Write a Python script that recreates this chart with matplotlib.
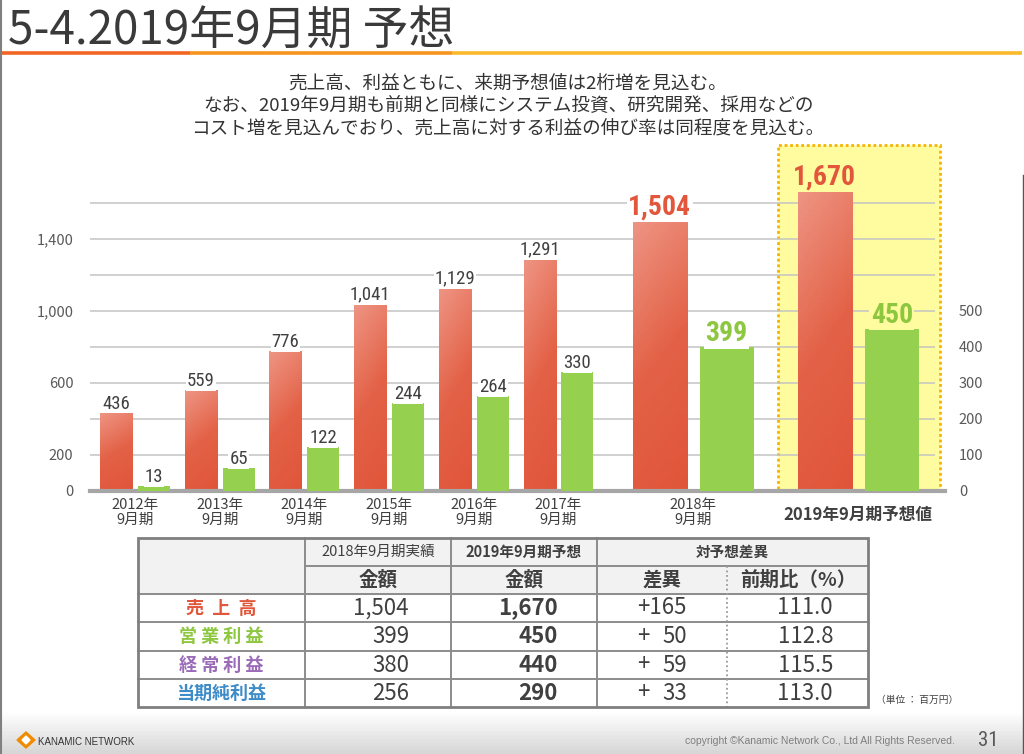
import numpy as np
import matplotlib
matplotlib.use("Agg")
import matplotlib.pyplot as plt
from matplotlib import font_manager
from matplotlib.colors import LinearSegmentedColormap
from matplotlib.patches import Rectangle, Polygon

plt.rcParams['font.family'] = ['Noto Sans CJK JP', 'DejaVu Sans']


def pick_narrow():
    fonts = font_manager.fontManager.ttflist
    names = {f.name for f in fonts}
    for n in ['Roboto Condensed', 'Liberation Sans Narrow', 'Open Sans Condensed',
              'Noto Sans Condensed', 'DejaVu Sans Condensed']:
        if n in names:
            return dict(family=n)
    for fam in ['Roboto', 'Noto Sans', 'Open Sans', 'DejaVu Sans', 'Inter', 'Lato']:
        for f in fonts:
            if f.name == fam and f.stretch in ('condensed', 'semi-condensed'):
                return dict(family=fam, stretch=f.stretch)
    for f in fonts:
        n = f.name.lower()
        if ('narrow' in n or 'condensed' in n) and 'mono' not in n and 'serif' not in n:
            return dict(family=f.name)
    return dict(family='Liberation Sans')


NARROW = pick_narrow()

# ---- data ----
periods = ['2012年\n9月期', '2013年\n9月期', '2014年\n9月期', '2015年\n9月期',
           '2016年\n9月期', '2017年\n9月期', '2018年\n9月期', '2019年9月期予想値']
sales = [436, 559, 776, 1041, 1129, 1291, 1504, 1670]
op_income = [13, 65, 122, 244, 264, 330, 399, 450]

left_ticks = [0, 200, 600, 1000, 1400]
right_ticks = [0, 100, 200, 300, 400, 500]

table_items = ['売  上  高', '営 業 利 益', '経 常 利 益', '当期純利益']
item_colors = ['#E2573B', '#8DC63F', '#9B6BB8', '#3D8CC8']
actual_2018 = [1504, 399, 380, 256]
forecast_2019 = [1670, 450, 440, 290]
diff_vs = [165, 50, 59, 33]
yoy_pct = [111.0, 112.8, 115.5, 113.0]

RED = '#E2573B'
GREEN = '#8DC63F'
TXT = '#404040'

W, H = 1024, 754
fig = plt.figure(figsize=(W / 100, H / 100), dpi=100)


def box(x0, y0, x1, y1):
    return [x0 / W, 1 - y1 / H, (x1 - x0) / W, (y1 - y0) / H]


# ---- slide decoration layer (pixel coordinates) ----
deco = fig.add_axes([0, 0, 1, 1])
deco.set_zorder(0)
deco.axis('off')
deco.set_xlim(0, W)
deco.set_ylim(H, 0)

deco.text(8, 31, '5-4.2019年9月期 予想', fontsize=33, color='#3A3A3A', va='center', ha='left')
deco.plot([0, 190], [53, 53], color='#F26522', lw=2.6, solid_capstyle='butt')
deco.plot([190, 452], [53, 53], color='#F7941D', lw=2.6, solid_capstyle='butt')
deco.plot([452, 1022], [53, 53], color='#FBBA2B', lw=2.6, solid_capstyle='butt')

subtitle = ['売上高、利益ともに、来期予想値は2桁増を見込む。',
            'なお、2019年9月期も前期と同様にシステム投資、研究開発、採用などの',
            'コスト増を見込んでおり、売上高に対する利益の伸び率は同程度を見込む。']
for i, line in enumerate(subtitle):
    deco.text(508, 84 + i * 22, line, fontsize=13.4, color='#333333', ha='center', va='center')

# legend
deco.add_patch(Rectangle((95, 182), 9, 9, color=RED))
deco.text(116, 187, '売上高', fontsize=13, fontweight='bold', color=RED, va='center')
deco.add_patch(Rectangle((196, 182), 9, 9, color=GREEN))
deco.text(215, 187, '営業利益', fontsize=13, fontweight='bold', color=GREEN, va='center')

# footer
foot = LinearSegmentedColormap.from_list('foot', ['#FFFFFF', '#D6D6D6'])
deco.imshow(np.linspace(0, 1, 50).reshape(-1, 1), cmap=foot, aspect='auto',
            extent=[0, W, 754, 712], origin='upper', zorder=0)
deco.add_patch(Polygon([(17, 740), (26, 732), (35, 740), (26, 748)], color='#F08A00', zorder=2))
deco.add_patch(Polygon([(22, 740), (26, 736), (30, 740), (26, 744)], color='white', zorder=3))
deco.text(38, 742, 'KANAMIC NETWORK', fontsize=7, family='Liberation Sans', color='#333333', va='center')
deco.text(955, 741, 'copyright ©Kanamic Network Co., Ltd All Rights Reserved.', fontsize=7.5,
          family='Liberation Sans', color='#7F7F7F', ha='right', va='center')
deco.text(988, 740, '31', fontsize=15, color='#595959', ha='center', va='center', **NARROW)
deco.plot([1, 1], [0, 754], color='#808080', lw=1.5)
deco.plot([1022.5, 1022.5], [175, 754], color='#555555', lw=1)

# ---- table ----
col_edges = [138, 305, 451, 597, 727, 868]
row_edges = [538, 566, 594, 622, 651, 679, 707]
deco.add_patch(Rectangle((138, 538), 868 - 138, 594 - 538, color='#F2F2F2', zorder=1))
line_kw = dict(color='#8C8C8C', lw=1.4, zorder=3)
deco.plot([305, 868], [566, 566], **line_kw)
for y in row_edges[2:-1]:
    deco.plot([138, 868], [y, y], **line_kw)
for x in col_edges[1:4]:
    deco.plot([x, x], [538, 707], **line_kw)
deco.plot([727, 727], [566, 707], color='#9A9A9A', lw=1.3, ls=(0, (1, 1.5)), zorder=3)
deco.add_patch(Rectangle((138, 538), 868 - 138, 707 - 538, fill=False, ec='#7F7F7F', lw=2, zorder=4))

deco.text(378, 552, '2018年9月期実績', fontsize=10.5, color=TXT, ha='center', va='center')
deco.text(524, 552, '2019年9月期予想', fontsize=10.5, fontweight='bold', color=TXT, ha='center', va='center')
deco.text(732, 552, '対予想差異', fontsize=10.5, fontweight='bold', color=TXT, ha='center', va='center')
for x, s in zip([378, 524, 662, 798], ['金額', '金額', '差異', '前期比（%）']):
    deco.text(x, 580, s, fontsize=14, fontweight='bold', color=TXT, ha='center', va='center')

diff_texts = []
for i in range(len(table_items)):
    yc = (row_edges[i + 2] + row_edges[i + 3]) / 2
    deco.text(221, yc, table_items[i], fontsize=13, fontweight='bold', color=item_colors[i],
              ha='center', va='center')
    deco.text(409, yc, f'{actual_2018[i]:,}', fontsize=16, color=TXT, ha='right', va='center')
    deco.text(558, yc, f'{forecast_2019[i]:,}', fontsize=16, fontweight='bold', color=TXT,
              ha='right', va='center')
    diff_texts.append(deco.text(687, yc, f'+{diff_vs[i]}', fontsize=16, color=TXT,
                                ha='right', va='center'))
    deco.text(833, yc, f'{yoy_pct[i]:.1f}', fontsize=16, color=TXT, ha='right', va='center')
deco.text(876, 700, '（単位 ： 百万円）', fontsize=7, color=TXT, va='center')

# ---- bar chart ----
ax = fig.add_axes(box(90, 140, 945, 491))
ax.set_zorder(1)
ax2 = ax.twinx()
ax2.set_zorder(2)

n = len(sales)
pos = np.array([0, 1, 2, 3, 4, 5, 6.59, 8.54])
big = np.array([False] * 6 + [True] * 2)
width = np.where(big, 0.64, 0.378)
offset = np.where(big, 0.396, 0.224)
xlim = (-0.531, 9.563)
ylim = (0, 1950)

# highlight box for forecast
ax.add_patch(Rectangle((7.59, 0), 1.91, 1922, fc='#FFFB9F', ec='#F6B400', lw=2,
                       ls=(0, (1, 1)), zorder=0.5))
ax.hlines(range(200, 1601, 200), xlim[0], 9.445, color='#C4C4C4', lw=1.1, zorder=1)
ax.axhline(0, color='#A6A6A6', lw=3, zorder=5, clip_on=False)

red_cmap = LinearSegmentedColormap.from_list('red', ['#E0553A', '#E36247', '#EE9483'])
yy, xx = np.mgrid[0:1:64j, 0:1:16j]
grad = 0.8 * yy + 0.2 * (1 - xx)

red_bars = ax.bar(pos - offset, sales, width=width, color='#E25A3E', zorder=2)
for b in red_bars:
    x0 = b.get_x()
    im = ax.imshow(grad, cmap=red_cmap, origin='lower', aspect='auto', zorder=2.5,
                   extent=[x0, x0 + b.get_width(), 0, b.get_height()])
    im.set_clip_path(b)

ax2.bar(pos + offset, op_income, width=width, color='#96D04F', zorder=2)

for i in range(n):
    bg = '#FFFB9F' if i == n - 1 else 'white'
    if big[i]:
        kw = dict(fontsize=20, fontweight='bold', **NARROW)
        rc, gc = RED, '#8DC63F'
    else:
        kw = dict(fontsize=13.5, **NARROW)
        rc, gc = TXT, TXT
    bb = dict(boxstyle='square,pad=0.05', fc=bg, ec='none')
    ax.annotate(f'{sales[i]:,}', (pos[i] - offset[i], sales[i]), ha='center', va='bottom',
                color=rc, bbox=bb, zorder=6, **kw)
    ax2.annotate(f'{op_income[i]:,}', (pos[i] + offset[i], op_income[i]), ha='center',
                 va='bottom', color=gc, bbox=bb, zorder=6, **kw)

ax.set_xlim(*xlim)
ax.set_ylim(*ylim)
ax2.set_ylim(ylim[0] / 2, ylim[1] / 2)

ax.set_yticks(left_ticks)
ax.set_yticklabels([f'{v:,}' for v in left_ticks])
ax2.set_yticks(right_ticks)
ax.tick_params(axis='y', length=0, pad=12, labelsize=10.5, labelcolor='#595959')
ax2.tick_params(axis='y', length=0, pad=10, labelsize=10.5, labelcolor='#595959')

ax.set_xticks(pos)
ax.set_xticklabels(periods, fontsize=10.5, color=TXT, linespacing=1.1)
ax.tick_params(axis='x', length=0, pad=5)
last = ax.get_xticklabels()[-1]
last.set_fontweight('bold')
last.set_fontsize(12)
ax.xaxis.get_major_ticks()[-1].set_pad(11)

for a in (ax, ax2):
    for s in a.spines.values():
        s.set_visible(False)

# split the "+" of the smaller differences so it lines up with "+165"
fig.canvas.draw()
inv = deco.transData.inverted()
plus_x = inv.transform(diff_texts[0].get_window_extent())[0][0]
for t, d in zip(diff_texts[1:], diff_vs[1:]):
    t.set_text(f'{d}')
    deco.text(plus_x, t.get_position()[1], '+', fontsize=16, color=TXT, ha='left', va='center')

fig.savefig('out.png', dpi=100)
